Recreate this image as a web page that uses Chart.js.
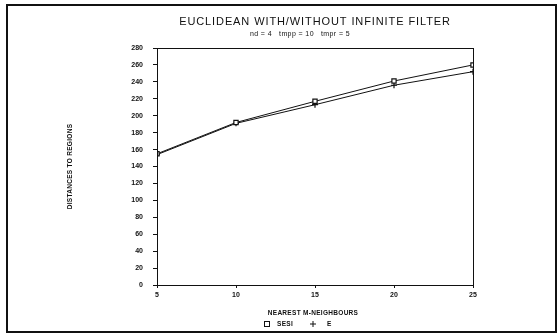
<!DOCTYPE html>
<html>
<head>
<meta charset="utf-8">
<script src="https://cdn.jsdelivr.net/npm/chart.js@4"></script>
<style>
  html, body { margin: 0; padding: 0; background: #fff; }
  #wrap { width: 558px; height: 335px; }
</style>
</head>
<body>
<div id="wrap"><canvas id="chart" width="558" height="335"></canvas></div>
<script>
// data
const neighbours = [5, 10, 15, 20, 25];
const sesiValues = [155, 192, 217, 241, 260];
const eValues = [154, 191, 213, 236, 252];
const yTicks = [0, 280, 20]; // min, max, step
const xTicks = [5, 25, 5];

const titleText = 'EUCLIDEAN WITH/WITHOUT INFINITE FILTER';
const subtitleText = 'nd = 4   tmpp = 10   tmpr = 5';
const xTitle = 'NEAREST M-NEIGHBOURS';
const yTitle = 'DISTANCES TO REGIONS';

const INK = '#111';

// frame, plot box, titles and legend
const decor = {
    id: 'decor',
    afterDraw(chart) {
        const ctx = chart.ctx;
        const a = chart.chartArea;
        ctx.save();
        ctx.strokeStyle = INK;
        ctx.fillStyle = INK;

        // outer frame
        ctx.lineWidth = 2;
        ctx.strokeRect(7, 5, 549, 327);

        // plot box
        ctx.lineWidth = 1;
        ctx.strokeRect(a.left + 0.5, a.top + 0.5, a.right - a.left, a.bottom - a.top);

        const cx = (a.left + a.right) / 2;
        ctx.textAlign = 'center';
        ctx.textBaseline = 'middle';

        ctx.font = '11px "Liberation Sans"';
        ctx.letterSpacing = '0.9px';
        ctx.fillText(titleText, cx, 22);

        ctx.font = '7px "Liberation Sans"';
        ctx.letterSpacing = '0.4px';
        ctx.fillText(subtitleText, 300, 34);

        ctx.font = 'bold 6.5px "Liberation Sans"';
        ctx.letterSpacing = '0.3px';
        ctx.fillText(xTitle, cx - 2, 313);

        ctx.save();
        ctx.translate(70, (a.top + a.bottom) / 2);
        ctx.rotate(-Math.PI / 2);
        ctx.fillText(yTitle, 0, 0);
        ctx.restore();

        // legend
        ctx.lineWidth = 1;
        ctx.strokeRect(264.5, 321.5, 5, 5);
        ctx.textAlign = 'left';
        ctx.fillText('SESI', 277, 324);
        ctx.beginPath();
        ctx.moveTo(310, 324); ctx.lineTo(316, 324);
        ctx.moveTo(313, 321); ctx.lineTo(313, 327);
        ctx.stroke();
        ctx.fillText('E', 327, 324);
        ctx.restore();
    }
};

const pts = vals => neighbours.map((n, i) => ({ x: n, y: vals[i] }));

new Chart(document.getElementById('chart'), {
    type: 'line',
    data: {
        datasets: [
            {
                label: 'SESI',
                data: pts(sesiValues),
                borderColor: INK,
                borderWidth: 1,
                pointStyle: 'rect',
                pointRadius: 3,
                pointBorderColor: INK,
                pointBackgroundColor: '#fff',
                pointBorderWidth: 1.2,
                tension: 0
            },
            {
                label: 'E',
                data: pts(eValues),
                borderColor: INK,
                borderWidth: 1,
                pointStyle: 'cross',
                pointRadius: 3,
                pointBorderColor: INK,
                pointBorderWidth: 1.2,
                tension: 0
            }
        ]
    },
    options: {
        responsive: false,
        animation: false,
        layout: { padding: { left: 0, right: 85, top: 48, bottom: 0 } },
        plugins: {
            legend: { display: false },
            title: { display: false },
            tooltip: { enabled: false }
        },
        scales: {
            x: {
                type: 'linear',
                min: xTicks[0],
                max: xTicks[1],
                ticks: {
                    stepSize: xTicks[2],
                    color: INK,
                    padding: 3,
                    maxRotation: 0,
                    font: { family: 'Liberation Sans', size: 7, weight: 'bold' }
                },
                grid: { drawOnChartArea: false, tickLength: 3, color: INK },
                border: { color: INK, width: 1 },
                afterFit(scale) { scale.height = 50; }
            },
            y: {
                min: yTicks[0],
                max: yTicks[1],
                ticks: {
                    stepSize: yTicks[2],
                    color: INK,
                    padding: 10,
                    font: { family: 'Liberation Sans', size: 7, weight: 'bold' }
                },
                grid: { drawOnChartArea: false, tickLength: 4, color: INK },
                border: { color: INK, width: 1 },
                afterFit(scale) { scale.width = 157; }
            }
        }
    },
    plugins: [decor]
});
</script>
</body>
</html>
